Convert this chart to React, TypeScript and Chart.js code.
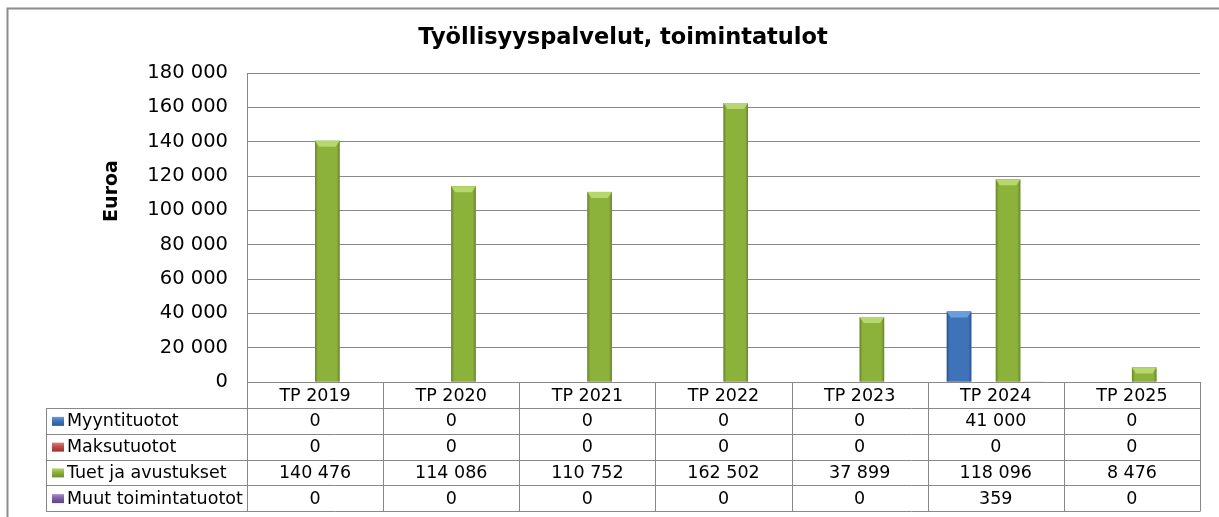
import React, { useEffect, useRef } from "react";
import { Chart, registerables } from "chart.js";

Chart.register(...registerables);

const TITLE = "Työllisyyspalvelut, toimintatulot";
const Y_TITLE = "Euroa";
const categories = ["TP 2019", "TP 2020", "TP 2021", "TP 2022", "TP 2023", "TP 2024", "TP 2025"];
const seriesNames = ["Myyntituotot", "Maksutuotot", "Tuet ja avustukset", "Muut toimintatuotot"];
const myyntituotot = [0, 0, 0, 0, 0, 41000, 0];
const maksutuotot = [0, 0, 0, 0, 0, 0, 0];
const tuetJaAvustukset = [140476, 114086, 110752, 162502, 37899, 118096, 8476];
const muutToimintatuotot = [0, 0, 0, 0, 0, 359, 0];
const yMax = 180000;
const yStep = 20000;

const colors = [
  { mid: "#3f73b8", dark: "#2a5391", light: "#6b9ee0" },
  { mid: "#be4b48", dark: "#8e2f2d", light: "#e07e7b" },
  { mid: "#8cb23c", dark: "#65862a", light: "#b6d76e" },
  { mid: "#7d60a0", dark: "#58407a", light: "#a98cce" },
];

const FONT = "'DejaVu Sans', sans-serif";
const GRID = "#888888";

const fmt = (v: number) => String(v).replace(/\B(?=(\d{3})+(?!\d))/g, " ");

const barStylePlugin = {
  id: "barStyle",
  afterDatasetsDraw(chart: any) {
    const ctx = chart.ctx;
    chart.data.datasets.forEach((ds: any, di: number) => {
      const meta = chart.getDatasetMeta(di);
      const c = colors[di];
      meta.data.forEach((el: any) => {
        const { x, y, base, width } = el.getProps(["x", "y", "base", "width"], true);
        const h = base - y;
        if (h < 2) return;
        const l = x - width / 2;
        const r = x + width / 2;
        ctx.save();
        const g = ctx.createLinearGradient(l, 0, r, 0);
        g.addColorStop(0, c.dark);
        g.addColorStop(0.12, c.mid);
        g.addColorStop(0.5, c.mid);
        g.addColorStop(0.88, c.mid);
        g.addColorStop(1, c.dark);
        ctx.fillStyle = g;
        ctx.fillRect(l, y, width, h);
        const capH = Math.min(6, h / 2);
        ctx.fillStyle = c.light;
        ctx.beginPath();
        ctx.moveTo(l, y);
        ctx.lineTo(r, y);
        ctx.lineTo(r - 4, y + capH);
        ctx.lineTo(l + 4, y + capH);
        ctx.closePath();
        ctx.fill();
        ctx.restore();
      });
    });
  },
};

const tablePlugin = {
  id: "dataTable",
  afterDraw(chart: any) {
    const ctx = chart.ctx;
    const xs = chart.scales.x;
    const area = chart.chartArea;
    const n = categories.length;
    const catW = (xs.right - xs.left) / n;
    const px = (v: number) => Math.round(v) + 0.5;
    const headerTop = area.bottom;
    const rowTop = 408;
    const rowH = 25.75;
    const tableLeft = 46;
    const tableBottom = rowTop + rowH * seriesNames.length;
    const values = [myyntituotot, maksutuotot, tuetJaAvustukset, muutToimintatuotot];

    ctx.save();
    // outer frame
    ctx.strokeStyle = "#8c8c8c";
    ctx.lineWidth = 2;
    ctx.strokeRect(7.5, 8.5, 1400, 800);

    // table lines
    ctx.strokeStyle = GRID;
    ctx.lineWidth = 1;
    ctx.beginPath();
    for (let i = 0; i <= seriesNames.length; i++) {
      const yy = px(rowTop + i * rowH);
      ctx.moveTo(tableLeft, yy);
      ctx.lineTo(xs.right, yy);
    }
    ctx.moveTo(px(tableLeft), px(rowTop));
    ctx.lineTo(px(tableLeft), px(tableBottom));
    for (let i = 0; i <= n; i++) {
      const xx = px(xs.left + i * catW);
      ctx.moveTo(xx, px(headerTop));
      ctx.lineTo(xx, px(tableBottom));
    }
    ctx.stroke();

    // labels and values
    ctx.font = `17.5px ${FONT}`;
    ctx.fillStyle = "#000";
    ctx.textBaseline = "middle";
    seriesNames.forEach((name, ri) => {
      const cy = rowTop + ri * rowH + rowH / 2 + 1;
      const c = colors[ri];
      const g = ctx.createLinearGradient(0, cy - 5, 0, cy + 5);
      g.addColorStop(0, c.light);
      g.addColorStop(0.4, c.mid);
      g.addColorStop(1, c.dark);
      ctx.fillStyle = g;
      ctx.fillRect(52, cy - 5, 12, 9);
      ctx.fillStyle = "#000";
      ctx.textAlign = "left";
      ctx.fillText(name, 67, cy);
      ctx.textAlign = "center";
      values[ri].forEach((v, ci) => {
        ctx.fillText(fmt(v), xs.getPixelForValue(ci), cy);
      });
    });

    // y-axis title
    ctx.translate(112, 191);
    ctx.rotate(-Math.PI / 2);
    ctx.font = `bold 19px ${FONT}`;
    ctx.textAlign = "center";
    ctx.textBaseline = "middle";
    ctx.fillText(Y_TITLE, 0, 0);
    ctx.restore();
  },
};

export default function App() {
  const ref = useRef<HTMLCanvasElement>(null);
  useEffect(() => {
    document.body.style.margin = "0";
    const chart = new Chart(ref.current as HTMLCanvasElement, {
      type: "bar",
      data: {
        labels: categories,
        datasets: [
          { label: seriesNames[0], data: myyntituotot, backgroundColor: colors[0].mid },
          { label: seriesNames[1], data: maksutuotot, backgroundColor: colors[1].mid },
          { label: seriesNames[2], data: tuetJaAvustukset, backgroundColor: colors[2].mid },
          { label: seriesNames[3], data: muutToimintatuotot, backgroundColor: colors[3].mid },
        ],
      },
      options: {
        responsive: false,
        animation: false,
        events: [],
        layout: { padding: { left: 46, right: 19, top: 0, bottom: 0 } },
        datasets: { bar: { categoryPercentage: 0.72, barPercentage: 1 } },
        plugins: {
          legend: { display: false },
          tooltip: { enabled: false },
          title: {
            display: true,
            text: TITLE,
            color: "#000",
            font: { family: FONT, size: 22.5, weight: "bold" },
            padding: { top: 24.5, bottom: 21.5 },
          },
        },
        scales: {
          x: {
            grid: { display: false },
            border: { display: true, color: GRID, width: 1 },
            ticks: { color: "#000", font: { family: FONT, size: 17.5 }, padding: -4, maxRotation: 0 },
            afterFit: (s: any) => {
              s.height = 135;
            },
          },
          y: {
            min: 0,
            max: yMax,
            grid: { color: GRID, drawTicks: false },
            border: { display: true, color: GRID, width: 1 },
            ticks: {
              stepSize: yStep,
              color: "#000",
              font: { family: FONT, size: 19.5 },
              padding: 19,
              callback: (v: any) => fmt(Number(v)),
            },
            afterFit: (s: any) => {
              s.width = 201;
            },
          },
        },
      },
      plugins: [barStylePlugin, tablePlugin],
    } as any);
    return () => chart.destroy();
  }, []);
  return (
    <div style={{ width: 1219, height: 517 }}>
      <canvas ref={ref} width={1219} height={517} style={{ display: "block" }} />
    </div>
  );
}
